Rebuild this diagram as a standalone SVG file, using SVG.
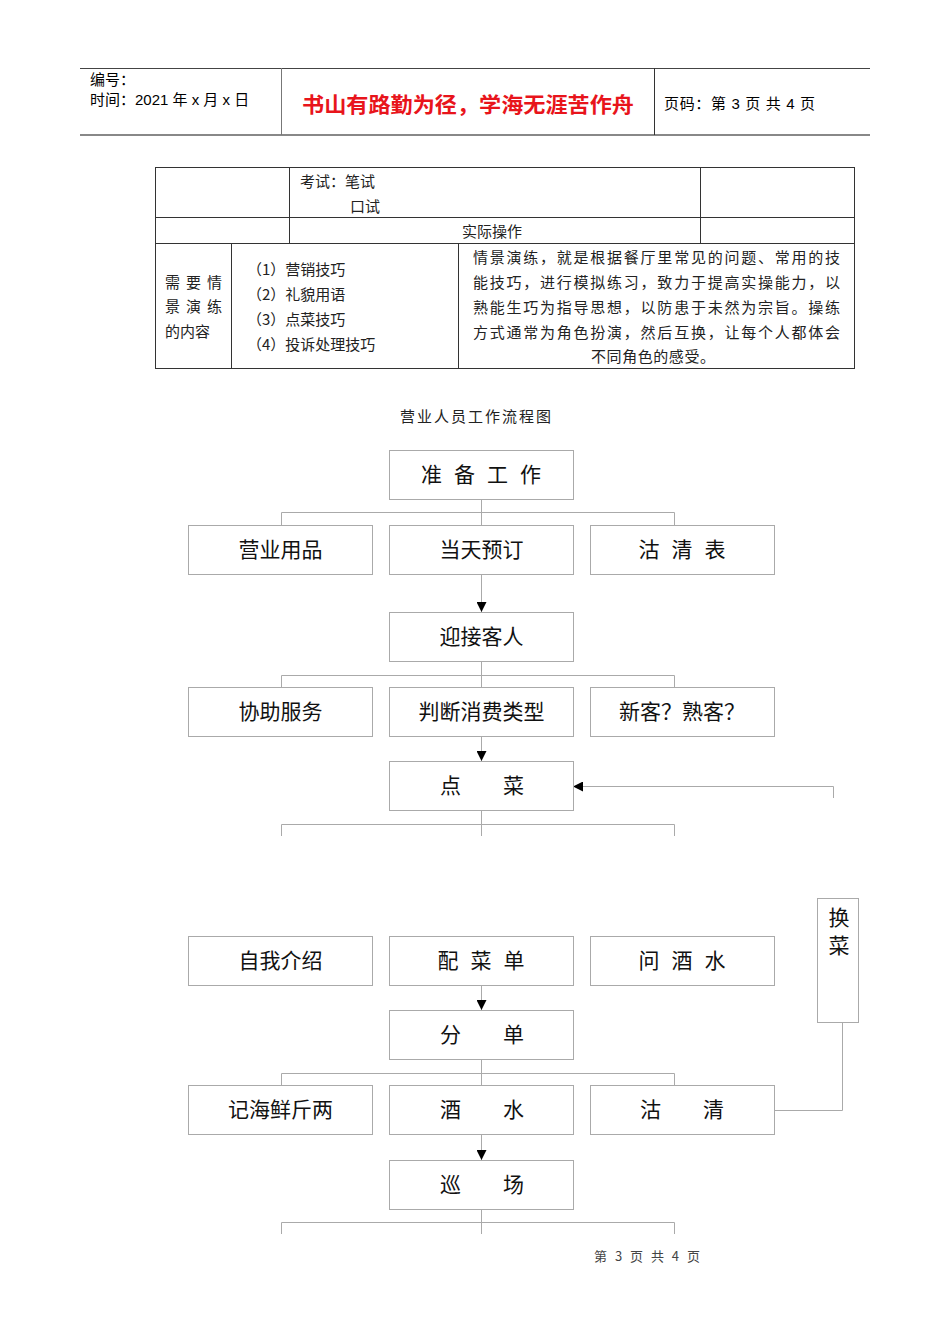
<svg xmlns="http://www.w3.org/2000/svg" width="950" height="1344" viewBox="0 0 950 1344">
<style>
.bg{fill:#fff}
.hd{font-family:"Liberation Sans","Noto Sans CJK SC",sans-serif;font-size:15px;fill:#000}
.red{font-family:"Noto Sans CJK SC",sans-serif;font-size:21px;font-weight:bold;fill:#e8141b}
.tb{font-family:"Noto Sans CJK SC",sans-serif;font-size:15px;fill:#222}
.tl{stroke:#333;stroke-width:1;fill:none}
.box{fill:#fff;stroke:#aaa;stroke-width:1}
.lbl{font-family:"Noto Sans CJK SC",sans-serif;font-size:21px;fill:#111;text-anchor:middle}
.cn{stroke:#aaa;stroke-width:1;fill:none}
.ft{font-family:"Noto Sans CJK SC",sans-serif;font-size:13px;fill:#444}
</style>
<defs>
<marker id="ah" viewBox="0 0 10 10" refX="10" refY="5" markerWidth="10" markerHeight="10" markerUnits="userSpaceOnUse" orient="auto">
<path d="M0,0 L10,5 L0,10 Z" fill="#000"/>
</marker>
</defs>
<rect class="bg" x="0" y="0" width="950" height="1344"/>

<g id="header">
<line x1="80" y1="68.5" x2="870" y2="68.5" stroke="#444" stroke-width="1"/>
<line x1="80" y1="135" x2="870" y2="135" stroke="#888" stroke-width="2"/>
<line x1="281.5" y1="68" x2="281.5" y2="135" stroke="#777" stroke-width="1"/>
<line x1="654.5" y1="68" x2="654.5" y2="135" stroke="#333" stroke-width="1"/>
<text class="hd" x="90" y="85">编号：</text>
<text class="hd" x="90" y="105">时间：2021 年 x 月 x 日</text>
<text class="red" x="302" y="112" textLength="332" lengthAdjust="spacingAndGlyphs">书山有路勤为径，学海无涯苦作舟</text>
<text class="hd" x="664" y="109" textLength="151" lengthAdjust="spacing">页码：第 3 页  共 4 页</text>
</g>

<g id="table">
<rect class="tl" x="155.5" y="167.5" width="699" height="201"/>
<line class="tl" x1="155" y1="217.5" x2="855" y2="217.5"/>
<line class="tl" x1="155" y1="243.5" x2="855" y2="243.5"/>
<line class="tl" x1="289.5" y1="167" x2="289.5" y2="243"/>
<line class="tl" x1="700.5" y1="167" x2="700.5" y2="243"/>
<line class="tl" x1="231.5" y1="243" x2="231.5" y2="368"/>
<line class="tl" x1="458.5" y1="243" x2="458.5" y2="368"/>
<text class="tb" x="300" y="187">考试：笔试</text>
<text class="tb" x="350" y="212">口试</text>
<text class="tb" x="462" y="237">实际操作</text>
<text class="tb" x="165" y="288" textLength="57" lengthAdjust="spacing">需要情</text>
<text class="tb" x="165" y="312" textLength="57" lengthAdjust="spacing">景演练</text>
<text class="tb" x="165" y="337">的内容</text>
<text class="tb" x="247" y="275">（1）营销技巧</text>
<text class="tb" x="247" y="300">（2）礼貌用语</text>
<text class="tb" x="247" y="325">（3）点菜技巧</text>
<text class="tb" x="247" y="350">（4）投诉处理技巧</text>
<text class="tb" x="473" y="263" textLength="367" lengthAdjust="spacing">情景演练，就是根据餐厅里常见的问题、常用的技</text>
<text class="tb" x="473" y="288" textLength="367" lengthAdjust="spacing">能技巧，进行模拟练习，致力于提高实操能力，以</text>
<text class="tb" x="473" y="313" textLength="367" lengthAdjust="spacing">熟能生巧为指导思想，以防患于未然为宗旨。操练</text>
<text class="tb" x="473" y="338" textLength="367" lengthAdjust="spacing">方式通常为角色扮演，然后互换，让每个人都体会</text>
<text class="tb" x="591" y="362" textLength="124" lengthAdjust="spacing">不同角色的感受。</text>
</g>

<text class="tb" x="400" y="422" textLength="151" lengthAdjust="spacing">营业人员工作流程图</text>

<g id="connectors">
<path class="cn" d="M481.5,500 V512.5 M281.5,525 V512.5 H674.5 V525 M481.5,512 V525"/>
<path class="cn" d="M481.5,574 V612" marker-end="url(#ah)"/>
<path class="cn" d="M481.5,661 V675.5 M281.5,687 V675.5 H674.5 V687 M481.5,675 V687"/>
<path class="cn" d="M481.5,736 V761" marker-end="url(#ah)"/>
<path class="cn" d="M833.5,798 V786.5 H573" marker-end="url(#ah)"/>
<path class="cn" d="M481.5,810 V836 M281.5,836 V824.5 H674.5 V836"/>
<path class="cn" d="M481.5,985 V1010" marker-end="url(#ah)"/>
<path class="cn" d="M481.5,1059 V1073.5 M281.5,1085 V1073.5 H674.5 V1085 M481.5,1073 V1085"/>
<path class="cn" d="M774,1110.5 H842.5 V1022"/>
<path class="cn" d="M481.5,1134 V1160" marker-end="url(#ah)"/>
<path class="cn" d="M481.5,1209 V1234 M281.5,1234 V1222.5 H674.5 V1234"/>
</g>

<g id="n-prep"><rect class="box" x="389.5" y="450.5" width="184" height="49"/><text class="lbl" x="487" y="482" letter-spacing="12">准备工作</text></g>
<g id="n-supplies"><rect class="box" x="188.5" y="525.5" width="184" height="49"/><text class="lbl" x="280.5" y="557">营业用品</text></g>
<g id="n-booking"><rect class="box" x="389.5" y="525.5" width="184" height="49"/><text class="lbl" x="481.5" y="557">当天预订</text></g>
<g id="n-soldout"><rect class="box" x="590.5" y="525.5" width="184" height="49"/><text class="lbl" x="688" y="557" letter-spacing="12">沽清表</text></g>
<g id="n-greet"><rect class="box" x="389.5" y="612.5" width="184" height="49"/><text class="lbl" x="481.5" y="644">迎接客人</text></g>
<g id="n-assist"><rect class="box" x="188.5" y="687.5" width="184" height="49"/><text class="lbl" x="280.5" y="719">协助服务</text></g>
<g id="n-judge"><rect class="box" x="389.5" y="687.5" width="184" height="49"/><text class="lbl" x="481.5" y="719">判断消费类型</text></g>
<g id="n-newold"><rect class="box" x="590.5" y="687.5" width="184" height="49"/><text class="lbl" x="682" y="719">新客？熟客？</text></g>
<g id="n-order"><rect class="box" x="389.5" y="761.5" width="184" height="49"/><text class="lbl" x="482" y="793">点　　菜</text></g>
<g id="n-change"><rect class="box" x="817.5" y="898.5" width="41" height="124"/><text class="lbl" x="839" y="925" font-size="20">换</text><text class="lbl" x="839" y="953" font-size="20">菜</text></g>
<g id="n-intro"><rect class="box" x="188.5" y="936.5" width="184" height="49"/><text class="lbl" x="280.5" y="968">自我介绍</text></g>
<g id="n-menu"><rect class="box" x="389.5" y="936.5" width="184" height="49"/><text class="lbl" x="487" y="968" letter-spacing="12">配菜单</text></g>
<g id="n-drinks"><rect class="box" x="590.5" y="936.5" width="184" height="49"/><text class="lbl" x="688" y="968" letter-spacing="12">问酒水</text></g>
<g id="n-split"><rect class="box" x="389.5" y="1010.5" width="184" height="49"/><text class="lbl" x="482" y="1042">分　　单</text></g>
<g id="n-seafood"><rect class="box" x="188.5" y="1085.5" width="184" height="49"/><text class="lbl" x="280.5" y="1117">记海鲜斤两</text></g>
<g id="n-wine"><rect class="box" x="389.5" y="1085.5" width="184" height="49"/><text class="lbl" x="482" y="1117">酒　　水</text></g>
<g id="n-clear"><rect class="box" x="590.5" y="1085.5" width="184" height="49"/><text class="lbl" x="682" y="1117">沽　　清</text></g>
<g id="n-patrol"><rect class="box" x="389.5" y="1160.5" width="184" height="49"/><text class="lbl" x="482" y="1192">巡　　场</text></g>

<text class="ft" x="594" y="1261" textLength="106" lengthAdjust="spacing">第 3 页 共 4 页</text>
</svg>
